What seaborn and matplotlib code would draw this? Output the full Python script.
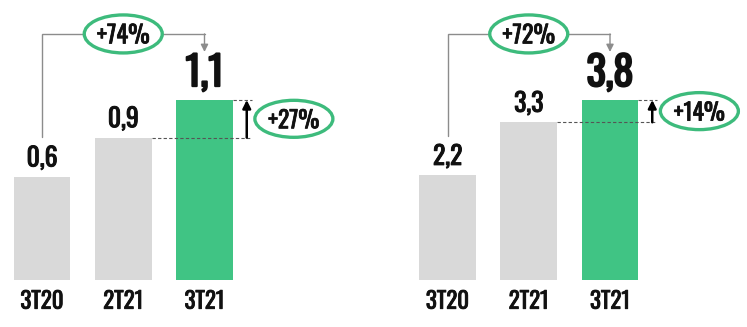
import matplotlib
matplotlib.use('Agg')
import numpy as np
import pandas as pd
import matplotlib.pyplot as plt
import seaborn as sns
from matplotlib import font_manager as fm, transforms
from matplotlib import patheffects as pe
from matplotlib.patches import Ellipse

# ---------------- data ----------------
periods = ['3T20', '2T21', '3T21']
left_values = [0.63, 0.87, 1.10]
right_values = [2.21, 3.33, 3.80]
left_yoy, left_qoq = '+74%', '+27%'
right_yoy, right_qoq = '+72%', '+14%'

GRAY = '#D9D9D9'
GREEN = '#40C484'
RING = '#3DBB7C'
LINE_GRAY = '#8C8C8C'
INK = '#111111'

names = {f.name for f in fm.fontManager.ttflist}
FONT = 'DejaVu Sans'
for cand in ['Oswald', 'Roboto Condensed', 'Barlow Condensed', 'Asap Condensed',
             'Liberation Sans Narrow']:
    if cand in names:
        FONT = cand
        break

sns.set_theme(style='white')
plt.rcParams['font.family'] = [FONT, 'DejaVu Sans']


def heavy(w):
    return [pe.withStroke(linewidth=w, foreground=INK)]


W, H = 747, 327
fig = plt.figure(figsize=(W / 100, H / 100), dpi=100)
UNIT = 81.25  # pixels per category step


def make_ax(center0_px):
    left = center0_px - 0.5 * UNIT
    return fig.add_axes([left / W, 47 / H, 4 * UNIT / W, 273 / H])


def ring(ax, x, y, w_px, h_px, label, size):
    tr = fig.dpi_scale_trans + transforms.ScaledTranslation(x, y, ax.transData)
    e = Ellipse((0, 0), w_px / 100, h_px / 100, transform=tr, facecolor='white',
                edgecolor=RING, lw=2.4, zorder=5, clip_on=False)
    ax.add_patch(e)
    ax.text(x, y, label, ha='center', va='center_baseline', fontsize=size,
            color=INK, zorder=6, path_effects=heavy(0.55))


def panel(ax, values, yoy, qoq):
    df = pd.DataFrame({'period': periods, 'value': values})
    sns.barplot(data=df, x='period', y='value', hue='period',
                palette=[GRAY, GRAY, GREEN], width=0.7, saturation=1,
                linewidth=0, legend=False, ax=ax)
    vmax = max(values)
    ax.set_xlim(-0.5, 3.5)
    ax.set_ylim(0, vmax * 273 / 180)

    # value labels
    for i, v in enumerate(values):
        big = (i == len(values) - 1)
        txt = f'{v:.1f}'.replace('.', ',')
        ax.annotate(txt, (i, v), xytext=(0, 10 if big else 7.5),
                    textcoords='offset points', ha='center', va='baseline',
                    fontsize=29 if big else 18.5, color=INK,
                    path_effects=heavy(1.5 if big else 0.7))

    # year-over-year bracket
    y_start = values[0] + 0.22 * vmax
    y_top = vmax * 1.367
    y_tip = vmax * 1.267
    ax.plot([0, 0, 2], [y_start, y_top, y_top], color=LINE_GRAY, lw=1,
            solid_joinstyle='miter', clip_on=False)
    ax.annotate('', xy=(2, y_tip), xytext=(2, y_top),
                arrowprops=dict(arrowstyle='-|>', color=LINE_GRAY, lw=1,
                                mutation_scale=11, shrinkA=0, shrinkB=0),
                annotation_clip=False)
    ring(ax, 1, y_top, 78, 38, yoy, 17.5)

    # quarter-over-quarter marker
    y1, y2 = values[1], values[2]
    dash = dict(color='#555555', lw=0.8, ls=(0, (3, 2)), clip_on=False)
    ax.plot([1.35, 2.58], [y1, y1], **dash)
    ax.plot([2.35, 2.58], [y2, y2], **dash)
    ax.annotate('', xy=(2.52, y2), xytext=(2.52, y1),
                arrowprops=dict(arrowstyle='-|>', color='black', lw=1.8,
                                mutation_scale=12, shrinkA=0, shrinkB=0),
                annotation_clip=False)
    ring(ax, 3.1, (y1 + y2) / 2, 78, 37, qoq, 17)

    ax.set_xticks(range(len(periods)))
    ax.set_xticklabels(periods, fontsize=16.5, color=INK, path_effects=heavy(0.6))
    ax.tick_params(axis='x', length=0, pad=7)
    ax.set_yticks([])
    ax.set_xlabel('')
    ax.set_ylabel('')
    ax.set_facecolor('none')
    sns.despine(ax=ax, left=True, bottom=True)


ax_l = make_ax(42)
ax_r = make_ax(447.5)
panel(ax_l, left_values, left_yoy, left_qoq)
panel(ax_r, right_values, right_yoy, right_qoq)

fig.savefig('out.png', dpi=100, facecolor='white')
